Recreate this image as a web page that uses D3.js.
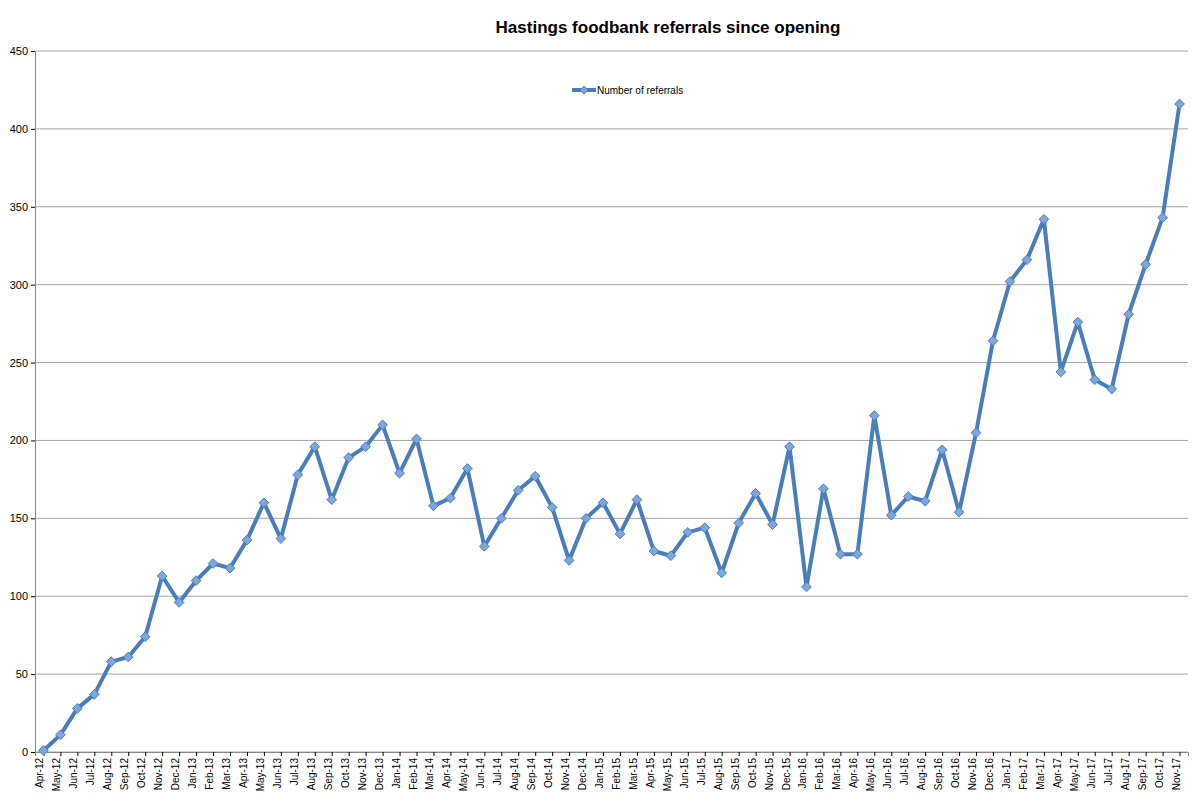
<!DOCTYPE html>
<html><head><meta charset="utf-8">
<script src="https://cdn.jsdelivr.net/npm/d3@7"></script>
<style>body{margin:0;background:#fff;font-family:"Liberation Sans",Arial,sans-serif}</style>
</head><body><svg id="chart" width="1200" height="802"></svg>
<script>
var months = ['Apr','May','Jun','Jul','Aug','Sep','Oct','Nov','Dec','Jan','Feb','Mar'];
var labels = [];
for (var i = 0; i < 68; i++) {
    var m = months[i % 12];
    var yr = 12 + Math.floor((i + 3) / 12);
    labels.push(m + '-' + yr);
}
var referrals = [1,11,28,37,58,61,74,113,96,110,121,118,136,160,137,178,196,162,189,196,210,179,201,158,163,182,132,150,168,177,157,123,150,160,140,162,129,126,141,144,115,147,166,146,196,106,169,127,127,216,152,164,161,194,154,205,264,302,316,342,244,276,239,233,281,313,343,416];
var yTicks = [0,50,100,150,200,250,300,350,400,450];

var margin = {top: 51, right: 12, bottom: 50, left: 35},
    width = 1200 - margin.left - margin.right,
    height = 802 - margin.top - margin.bottom;

var svg = d3.select('#chart');
var g = svg.append('g').attr('transform', 'translate(' + margin.left + ',' + margin.top + ')');

var x = d3.scalePoint().domain(labels).range([0, width]).padding(0.5);
var y = d3.scaleLinear().domain([0, 450]).range([height, 0]);

// gridlines
g.selectAll('.grid').data(yTicks).enter().append('line')
    .attr('x1', 0).attr('x2', width)
    .attr('y1', function(d) { return y(d); }).attr('y2', function(d) { return y(d); })
    .style('stroke', '#a6a6a6').style('stroke-width', 1);

var yAxis = g.append('g').call(d3.axisLeft(y).tickValues(yTicks).tickSize(4));
yAxis.selectAll('text').style('font-size', '11px').style('fill', '#000');
yAxis.select('.domain').style('stroke', '#888');

var xAxis = g.append('g').attr('transform', 'translate(0,' + height + ')')
    .call(d3.axisBottom(x).tickSize(4));
xAxis.select('.domain').style('stroke', '#888');
xAxis.selectAll('text')
    .style('font-size', '10px').style('fill', '#000')
    .attr('transform', 'rotate(-90)')
    .attr('text-anchor', 'end')
    .attr('x', -6).attr('y', -4).attr('dy', '0.35em');

var line = d3.line()
    .x(function(d, i) { return x(labels[i]); })
    .y(function(d) { return y(d); });

g.append('path').datum(referrals)
    .attr('d', line)
    .style('fill', 'none').style('stroke', '#4a7ebb').style('stroke-width', 4)
    .style('stroke-linejoin', 'round');

var diamond = d3.symbol().type(d3.symbolDiamond2 || d3.symbolDiamond).size(60);
g.selectAll('.pt').data(referrals).enter().append('path')
    .attr('d', diamond)
    .attr('transform', function(d, i) { return 'translate(' + x(labels[i]) + ',' + y(d) + ')'; })
    .style('fill', '#7ea6dc').style('stroke', '#4a7ebb').style('stroke-width', 1);

// title
svg.append('text').attr('x', 668).attr('y', 33)
    .attr('text-anchor', 'middle').attr('font-weight', 'bold')
    .style('font-size', '17px').text('Hastings foodbank referrals since opening');

// legend
svg.append('line').attr('x1', 572).attr('x2', 596).attr('y1', 90).attr('y2', 90)
    .style('stroke', '#4a7ebb').style('stroke-width', 4);
svg.append('path').attr('d', d3.symbol().type(d3.symbolDiamond2 || d3.symbolDiamond).size(40))
    .attr('transform', 'translate(584,90)')
    .style('fill', '#7ea6dc').style('stroke', '#4a7ebb');
svg.append('text').attr('x', 597).attr('y', 90).attr('dy', '0.35em')
    .style('font-size', '10px').text('Number of referrals');
</script></body></html>
